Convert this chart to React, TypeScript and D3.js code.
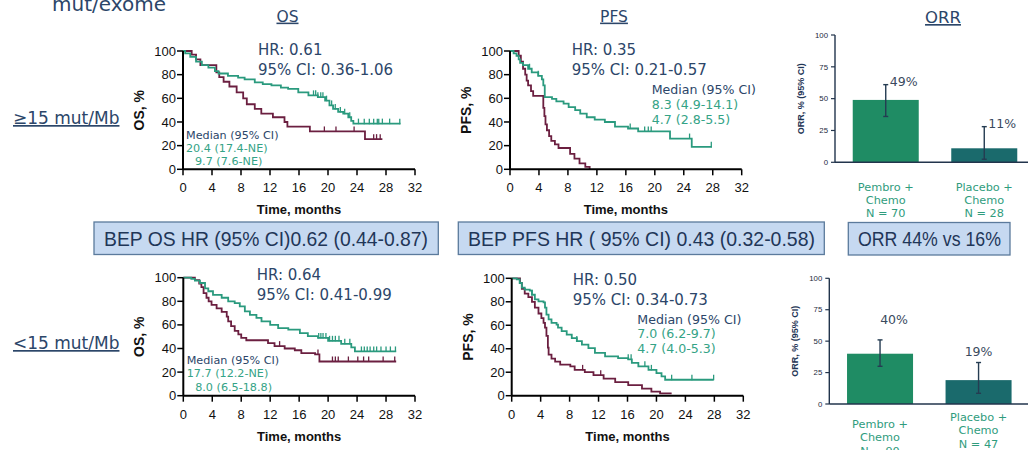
import React from 'react';
import * as d3 from 'd3';

type Pt = [number, number];

// ---------- shared ticks ----------
const monthTicks = [0, 4, 8, 12, 16, 20, 24, 28, 32];
const pctTicks = [0, 20, 40, 60, 80, 100];
const orrTicks = [0, 25, 50, 75, 100];

// ---------- ≥15 mut/Mb : OS ----------
const osHighPembro: Pt[] = [[0,100],[0.3,98],[1.0,95],[1.8,91],[2.6,88],[3.5,86],[4.4,83],[4.9,81],[6.2,79],[7.6,77.5],[8.5,76],[9.9,73.5],[11.0,72],[12.2,71],[13.5,69],[14.5,68],[15.9,65],[17.3,62.5],[18.6,61],[19.6,58],[20.2,54],[20.7,51],[21.4,48.5],[22.1,47],[22.8,44],[23.2,41],[23.5,38.6]];
const osHighPembroEnd = 30;
const osHighPembroCensor = [18.0,18.3,18.6,19.0,19.3,19.8,20.5,21.0,21.7,22.3,23.0,24.2,25.0,25.7,26.3,26.8,27.0,27.5,28.5,29.9];
const osHighPlacebo: Pt[] = [[0,100],[1.2,97],[1.8,93],[2.4,88],[4.6,82],[5.0,78],[5.6,74],[6.4,70],[7.4,65],[8.3,60],[8.8,55],[9.9,51],[10.8,47],[12.4,44],[14.0,40],[14.4,36],[17.5,32],[25.1,25.5]];
const osHighPlaceboEnd = 27.5;
const osHighPlaceboCensor = [19.5,21.1,23.6,26.3,26.7,27.2];

// ---------- ≥15 mut/Mb : PFS ----------
const pfsHighPembro: Pt[] = [[0,100],[0.5,98],[0.9,96],[1.2,93],[1.4,90],[1.8,88],[2.5,85],[3.0,82],[3.9,79],[4.4,76],[4.6,71],[4.8,61],[5.8,59.5],[6.4,57.5],[7.4,55.5],[8.1,52.5],[9.0,50],[9.7,47],[10.6,44],[11.7,42],[13.1,40],[14.5,36],[16.3,34.5],[17.7,32],[22.1,26],[25.1,19]];
const pfsHighPembroEnd = 27.9;
const pfsHighPembroCensor = [2.7,3.9,16.6,18.6,19.1,19.5,24.8,27.8];
const pfsHighPlacebo: Pt[] = [[0,100],[1.2,96],[1.5,91],[1.8,85],[2.1,80],[2.3,75],[2.5,71],[2.9,66],[3.2,62],[4.6,52],[4.75,45],[4.9,38],[5.1,33],[5.4,28],[5.7,24],[6.2,21],[6.7,18],[8.3,13],[8.9,9],[9.6,5],[10.4,2],[11.0,0]];
const pfsHighPlaceboEnd = 11.0;
const pfsHighPlaceboCensor: number[] = [];

// ---------- <15 mut/Mb : OS ----------
const osLowPembro: Pt[] = [[0,100],[1.1,99],[1.6,97.5],[2.3,95.5],[3.0,91],[3.45,88.5],[4.1,85.5],[5.3,83],[6.2,80],[7.1,78.5],[7.8,75.7],[8.5,71.5],[9.2,68.5],[10.1,66],[10.8,63],[12.0,60],[13.1,57.3],[14.5,56],[16.1,53],[17.2,50.5],[18.6,49],[20.0,46.5],[21.8,44],[23.2,41],[23.7,37.5]];
const osLowPembroEnd = 29.4;
const osLowPembroCensor = [18.7,19.0,19.3,19.7,20.2,20.6,21.0,21.5,22.3,23.0,24.6,25.0,25.4,25.8,26.3,26.7,27.3,28.0,28.6,29.3];
const osLowPlacebo: Pt[] = [[0,100],[1.6,98],[2.2,95],[2.5,92],[2.8,87],[3.2,83],[3.5,80],[3.9,77],[4.6,74],[5.3,71],[6.0,67],[6.2,63],[6.6,59],[7.1,55],[7.6,52],[8.0,49],[8.7,47],[11.7,44.5],[12.6,42],[14.0,40],[15.4,38.5],[16.3,36],[18.2,35],[18.8,29]];
const osLowPlaceboEnd = 29.4;
const osLowPlaceboCensor = [13.3,18.6,20.6,21.0,21.4,22.8,24.1,24.9,25.6,27.6,29.2];

// ---------- <15 mut/Mb : PFS ----------
const pfsLowPembro: Pt[] = [[0,100],[0.7,99],[1.1,96],[1.4,92],[1.8,90.3],[2.5,89.5],[2.8,86],[3.2,82],[3.7,80.4],[4.4,79.5],[4.6,75],[4.8,69],[5.1,65],[5.5,62],[6.2,60.5],[6.4,58],[6.9,55],[7.6,52],[8.3,49],[9.0,46.5],[9.7,43.5],[10.6,40.5],[11.5,36.5],[12.9,33.5],[14.7,32],[16.1,31],[16.6,28],[17.5,25],[18.9,22],[20.0,19.3],[20.7,16.5],[21.2,13.6]];
const pfsLowPembroEnd = 27.9;
const pfsLowPembroCensor = [2.8,9.0,16.1,16.5,18.4,19.3,22.1,24.9,27.9];
const pfsLowPlacebo: Pt[] = [[0,100],[1.15,96],[1.4,91],[1.8,87],[2.3,84],[2.8,80],[3.2,75],[3.7,70],[4.1,66],[4.4,62],[4.6,58],[4.8,51],[5.0,41],[5.1,35],[5.5,31.5],[6.0,29],[6.7,26.5],[8.1,25],[8.7,22],[10.1,20],[11.3,17.5],[12.7,14.5],[14.3,11.5],[16.1,9],[18.0,6],[19.3,3.5],[20.5,2]];
const pfsLowPlaceboEnd = 22.1;
const pfsLowPlaceboCensor = [9.8,12.3];

// ---------- ORR ----------
const orrArms = ['Pembro', 'Placebo'];
const orrHigh = [49, 11];
const orrHighLo = [36, 2.4];
const orrHighHi = [61, 28];
const orrHighN = [70, 28];
const orrLow = [40, 19];
const orrLowLo = [30, 8.5];
const orrLowHi = [51, 33];
const orrLowN = [90, 47];

// ---------- texts ----------
const hrHigh = ['HR: 0.61', '95% CI: 0.36-1.06', 'HR: 0.35', '95% CI: 0.21-0.57'];
const hrLow = ['HR: 0.64', '95% CI: 0.41-0.99', 'HR: 0.50', '95% CI: 0.34-0.73'];
const medOsHigh = ['20.4 (17.4-NE)', '9.7 (7.6-NE)'];
const medPfsHigh = ['8.3 (4.9-14.1)', '4.7 (2.8-5.5)'];
const medOsLow = ['17.7 (12.2-NE)', '8.0 (6.5-18.8)'];
const medPfsLow = ['7.0 (6.2-9.7)', '4.7 (4.0-5.3)'];
const boxTexts = ['BEP OS HR (95% CI)0.62 (0.44-0.87)', 'BEP PFS HR ( 95% CI) 0.43 (0.32-0.58)', 'ORR 44% vs 16%'];

const NAVY = '#2c4669';
const GREEN = '#2a9a7e';
const MAROON = '#6b1f40';
const MEDGREEN = '#34a386';
const VER = '"DejaVu Sans", Verdana, sans-serif';
const ARIAL = '"Liberation Sans", Arial, sans-serif';

function survAt(pts: Pt[], t: number) {
  let s = pts[0][1];
  for (const p of pts) if (p[0] <= t) s = p[1];
  return s;
}

type KMProps = {
  x0: number; x1: number; yTop: number; yBot: number; yLabel: string;
  pembro: Pt[]; pembroEnd: number; pembroCensor: number[];
  placebo: Pt[]; placeboEnd: number; placeboCensor: number[];
  hr: string[]; hrX: number; hrY: number;
  med: string[]; medX: number; medY: number; medSize: number; medGap: number; med3dx: number;
};

function KMPanel(p: KMProps) {
  const x = d3.scaleLinear().domain([0, 32]).range([p.x0, p.x1]);
  const y = d3.scaleLinear().domain([0, 100]).range([p.yBot, p.yTop]);
  const line = d3.line<Pt>().x(d => x(d[0])).y(d => y(d[1])).curve(d3.curveStepAfter);
  const mk = (pts: Pt[], end: number) => line([...pts, [end, pts[pts.length - 1][1]]]) || '';
  const cens = (pts: Pt[], ts: number[], color: string) =>
    ts.map((t, i) => {
      const yy = y(survAt(pts, t));
      return <line key={i} x1={x(t)} x2={x(t)} y1={yy - 5} y2={yy + 0.5} stroke={color} strokeWidth={1.3} />;
    });
  return (
    <g>
      <path d={mk(p.placebo, p.placeboEnd)} fill="none" stroke={MAROON} strokeWidth={1.8} />
      {cens(p.placebo, p.placeboCensor, MAROON)}
      <path d={mk(p.pembro, p.pembroEnd)} fill="none" stroke={GREEN} strokeWidth={1.8} />
      {cens(p.pembro, p.pembroCensor, GREEN)}
      <line x1={p.x0} x2={p.x0} y1={y(100)} y2={y(0)} stroke="#000" strokeWidth={2} />
      <line x1={p.x0} x2={x(32)} y1={y(0)} y2={y(0)} stroke="#000" strokeWidth={2} />
      {pctTicks.map(t => (
        <g key={'y' + t}>
          <line x1={p.x0 - 6} x2={p.x0} y1={y(t)} y2={y(t)} stroke="#000" strokeWidth={1.5} />
          <text x={p.x0 - 7} y={y(t)} dy="0.35em" textAnchor="end" fontFamily={ARIAL} fontSize={13} fill="#111">{t}</text>
        </g>
      ))}
      {monthTicks.map(t => (
        <g key={'x' + t}>
          <line x1={x(t)} x2={x(t)} y1={y(0)} y2={y(0) + 6} stroke="#000" strokeWidth={1.5} />
          <text x={x(t)} y={y(0) + 23} textAnchor="middle" fontFamily={ARIAL} fontSize={13} fill="#111">{t}</text>
        </g>
      ))}
      <text x={(p.x0 + x(32)) / 2} y={y(0) + 45} textAnchor="middle" fontFamily={ARIAL} fontWeight="bold" fontSize={13} fill="#111">Time, months</text>
      <text transform={`translate(${p.x0 - 44},${(p.yTop + p.yBot) / 2}) rotate(-90)`} textAnchor="middle" dominantBaseline="central" fontFamily={ARIAL} fontWeight="bold" fontSize={14} fill="#111">{p.yLabel}</text>
      <text x={p.hrX} y={p.hrY} fontFamily={VER} fontSize={15} fill={NAVY}>{p.hr[0]}</text>
      <text x={p.hrX} y={p.hrY + 20} fontFamily={VER} fontSize={15} fill={NAVY}>{p.hr[1]}</text>
      <text x={p.medX} y={p.medY} fontFamily={VER} fontSize={p.medSize} fill={NAVY}>Median (95% CI)</text>
      <text x={p.medX} y={p.medY + p.medGap} fontFamily={VER} fontSize={p.medSize} fill={MEDGREEN}>{p.med[0]}</text>
      <text x={p.medX + p.med3dx} y={p.medY + 2 * p.medGap} fontFamily={VER} fontSize={p.medSize} fill={MEDGREEN}>{p.med[1]}</text>
    </g>
  );
}

type ORRProps = {
  x0: number; yTop: number; yBot: number; xEnd: number;
  vals: number[]; lo: number[]; hi: number[]; n: number[];
  catY: number[]; catGap: number;
  labelMode: 'side' | 'top'; labelDx: number[]; labelDy: number[];
  yLabelX: number;
};

function ORRPanel(p: ORRProps) {
  const y = d3.scaleLinear().domain([0, 100]).range([p.yBot, p.yTop]);
  const xb = d3.scaleBand<string>().domain(orrArms).range([p.x0, p.x0 + 200]).paddingInner(0.33).paddingOuter(0.18);
  const fills = ['#1f8c64', '#1a6a6c'];
  return (
    <g>
      {orrArms.map((a, i) => {
        const bx = xb(a)!;
        const cx = bx + xb.bandwidth() / 2;
        return (
          <g key={a}>
            <rect x={bx} y={y(p.vals[i])} width={xb.bandwidth()} height={y(0) - y(p.vals[i])} fill={fills[i]} />
            <line x1={cx} x2={cx} y1={y(p.lo[i])} y2={y(p.hi[i])} stroke="#253c52" strokeWidth={1.4} />
            <line x1={cx - 2.5} x2={cx + 2.5} y1={y(p.lo[i])} y2={y(p.lo[i])} stroke="#253c52" strokeWidth={1.4} />
            <line x1={cx - 2.5} x2={cx + 2.5} y1={y(p.hi[i])} y2={y(p.hi[i])} stroke="#253c52" strokeWidth={1.4} />
            <text x={cx + p.labelDx[i]} y={y(p.hi[i]) + p.labelDy[i]} textAnchor={p.labelMode === 'side' ? 'start' : 'middle'} fontFamily={VER} fontSize={12.5} fill="#3a4a5e">{p.vals[i]}%</text>
            {[i === 0 ? 'Pembro +' : 'Placebo +', 'Chemo', `N = ${p.n[i]}`].map((s, k) => (
              <text key={k} x={cx} y={p.catY[i] + k * p.catGap} textAnchor="middle" fontFamily={VER} fontSize={11.3} fill="#2f9c7d">{s}</text>
            ))}
          </g>
        );
      })}
      <line x1={p.x0} x2={p.x0} y1={y(100)} y2={y(0)} stroke="#22344c" strokeWidth={1.4} />
      <line x1={p.x0} x2={p.xEnd} y1={y(0)} y2={y(0)} stroke="#22344c" strokeWidth={1.4} />
      {orrTicks.map(t => (
        <g key={t}>
          <line x1={p.x0 - 4} x2={p.x0} y1={y(t)} y2={y(t)} stroke="#22344c" strokeWidth={1.2} />
          <text x={p.x0 - 7} y={y(t)} dy="0.35em" textAnchor="end" fontFamily={ARIAL} fontSize={7.8} fill="#1c2a3c">{t}</text>
        </g>
      ))}
      <text transform={`translate(${p.yLabelX},${(p.yTop + p.yBot) / 2}) rotate(-90)`} textAnchor="middle" dominantBaseline="central" fontFamily={ARIAL} fontWeight="bold" fontSize={9} fill="#1f3656">ORR, % (95% CI)</text>
    </g>
  );
}

function Box({ x, y, w, h, text, tx, tw }: { x: number; y: number; w: number; h: number; text: string; tx: number; tw: number }) {
  return (
    <g>
      <rect x={x} y={y} width={w} height={h} fill="#c6d9f1" stroke="#5b7a9c" strokeWidth={1.3} />
      <text x={tx} y={y + h / 2 + 7.5} fontFamily={ARIAL} fontSize={21} fill="#1f3658" textLength={tw} lengthAdjust="spacingAndGlyphs">{text}</text>
    </g>
  );
}

export default function App() {
  return (
    <svg width={1028} height={450} style={{ position: 'absolute', left: 0, top: 0, background: '#fff' }}>
      <rect x={0} y={0} width={1028} height={450} fill="#fff" />
      <text x={52} y={11} fontFamily={VER} fontSize={20} fill={NAVY}>mut/exome</text>
      <text x={287.5} y={21.6} textAnchor="middle" fontFamily={VER} fontSize={15.5} fill={NAVY} textDecoration="underline">OS</text>
      <text x={614} y={21.6} textAnchor="middle" fontFamily={VER} fontSize={15.5} fill={NAVY} textDecoration="underline">PFS</text>
      <text x={943} y={23} textAnchor="middle" fontFamily={VER} fontSize={16.5} fill={NAVY} textDecoration="underline">ORR</text>
      <text x={13} y={124} fontFamily={VER} fontSize={17} fill={NAVY} textDecoration="underline">≥15 mut/Mb</text>
      <text x={13} y={349} fontFamily={VER} fontSize={17} fill={NAVY} textDecoration="underline">&lt;15 mut/Mb</text>

      <KMPanel x0={183} x1={415} yTop={51} yBot={169.3} yLabel="OS, %"
        pembro={osHighPembro} pembroEnd={osHighPembroEnd} pembroCensor={osHighPembroCensor}
        placebo={osHighPlacebo} placeboEnd={osHighPlaceboEnd} placeboCensor={osHighPlaceboCensor}
        hr={hrHigh.slice(0, 2)} hrX={258} hrY={55.4}
        med={medOsHigh} medX={186} medY={139} medSize={11.2} medGap={13} med3dx={9} />
      <KMPanel x0={510} x1={741.7} yTop={51} yBot={169.3} yLabel="PFS, %"
        pembro={pfsHighPembro} pembroEnd={pfsHighPembroEnd} pembroCensor={pfsHighPembroCensor}
        placebo={pfsHighPlacebo} placeboEnd={pfsHighPlaceboEnd} placeboCensor={pfsHighPlaceboCensor}
        hr={hrHigh.slice(2, 4)} hrX={571.7} hrY={55.4}
        med={medPfsHigh} medX={651.7} medY={94} medSize={12.6} medGap={14.9} med3dx={0} />
      <KMPanel x0={183.3} x1={415} yTop={277.7} yBot={395.7} yLabel="OS, %"
        pembro={osLowPembro} pembroEnd={osLowPembroEnd} pembroCensor={osLowPembroCensor}
        placebo={osLowPlacebo} placeboEnd={osLowPlaceboEnd} placeboCensor={osLowPlaceboCensor}
        hr={hrLow.slice(0, 2)} hrX={256.7} hrY={280.4}
        med={medOsLow} medX={186.7} medY={364} medSize={11.2} medGap={13.3} med3dx={8.5} />
      <KMPanel x0={511.7} x1={743.3} yTop={278.3} yBot={395.7} yLabel="PFS, %"
        pembro={pfsLowPembro} pembroEnd={pfsLowPembroEnd} pembroCensor={pfsLowPembroCensor}
        placebo={pfsLowPlacebo} placeboEnd={pfsLowPlaceboEnd} placeboCensor={pfsLowPlaceboCensor}
        hr={hrLow.slice(2, 4)} hrX={572.7} hrY={284.7}
        med={medPfsLow} medX={637.3} medY={323.5} medSize={12.6} medGap={14.7} med3dx={0} />

      <ORRPanel x0={835} yTop={35} yBot={162.3} xEnd={1028}
        vals={orrHigh} lo={orrHighLo} hi={orrHighHi} n={orrHighN}
        catY={[190.5, 190.5]} catGap={13}
        labelMode="side" labelDx={[4, 4]} labelDy={[1.5, 1.5]} yLabelX={800.7} />
      <ORRPanel x0={829.3} yTop={278.3} yBot={404} xEnd={1028}
        vals={orrLow} lo={orrLowLo} hi={orrLowHi} n={orrLowN}
        catY={[427.8, 420.5]} catGap={13.5}
        labelMode="top" labelDx={[14, 0]} labelDy={[-15.5, -6.5]} yLabelX={795} />

      <Box x={94} y={222} w={344.3} h={32.5} text={boxTexts[0]} tx={104} tw={324} />
      <Box x={458.3} y={222} w={366} h={32.5} text={boxTexts[1]} tx={468} tw={347} />
      <Box x={848.3} y={222.5} w={161.7} h={32.5} text={boxTexts[2]} tx={858} tw={143} />
    </svg>
  );
}
